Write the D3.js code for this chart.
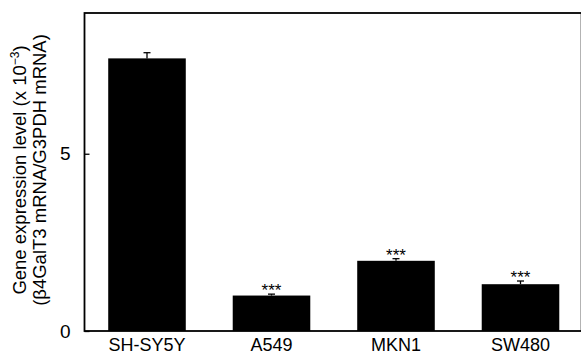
<!DOCTYPE html>
<html><head><meta charset="utf-8">
<script src="https://cdn.jsdelivr.net/npm/d3@7"></script>
<style>body{margin:0;background:#fff}svg{display:block}text{font-family:"Liberation Sans",Arial,Helvetica,sans-serif;fill:#000}</style>
</head><body><svg id="c" width="581" height="356"></svg>
<script>
const categories = ["SH-SY5Y","A549","MKN1","SW480"];
const values = [7.69, 1.0, 1.98, 1.32];
const errors = [0.16, 0.04, 0.06, 0.09];
const marks = ["", "***", "***", "***"];
const yTicks = [0, 5];

(function(){
const svg = d3.select("#c");
const pL = 84.5, pT = 13, pB = 331, pR = 581.6;
const x = d3.scaleBand().domain(categories).range([84.75, 582.75]).paddingInner(0.377).paddingOuter(0.1885);
const y = d3.scaleLinear().domain([0, 8.97]).range([pB, pT]);

svg.append("rect").attr("x", pL).attr("y", pT).attr("width", pR-pL).attr("height", pB-pT)
  .attr("fill","none").attr("stroke","#000").attr("stroke-width",1.8);

svg.selectAll("rect.bar").data(categories).enter().append("rect").attr("class","bar")
  .attr("x", d=>x(d)).attr("width", x.bandwidth())
  .attr("y", (d,i)=>y(values[i])).attr("height",(d,i)=>pB-y(values[i])).attr("fill","#000");

const eg = svg.selectAll("g.err").data(categories).enter().append("g");
eg.append("line").attr("x1",d=>x(d)+x.bandwidth()/2).attr("x2",d=>x(d)+x.bandwidth()/2)
  .attr("y1",(d,i)=>y(values[i])).attr("y2",(d,i)=>y(values[i]+errors[i])).attr("stroke","#000").attr("stroke-width",1.3);
eg.append("line").attr("x1",d=>x(d)+x.bandwidth()/2-3.5).attr("x2",d=>x(d)+x.bandwidth()/2+3.5)
  .attr("y1",(d,i)=>y(values[i]+errors[i])).attr("y2",(d,i)=>y(values[i]+errors[i])).attr("stroke","#000").attr("stroke-width",1.3);

svg.selectAll("text.star").data(categories).enter().append("text")
  .attr("x",d=>x(d)+x.bandwidth()/2).attr("y",(d,i)=>y(values[i]+errors[i])+2)
  .attr("text-anchor","middle").attr("font-size",17).text((d,i)=>marks[i]);

const yAxis = d3.axisLeft(y).tickValues(yTicks).tickSize(-5).tickPadding(14).tickFormat(d3.format("d"));
const ga = svg.append("g").attr("transform",`translate(${pL},0)`).call(yAxis);
ga.select(".domain").remove();
ga.selectAll(".tick line").attr("stroke","#000").attr("stroke-width",1.3);
ga.selectAll(".tick text").attr("font-size",19).attr("font-family","Liberation Sans, Arial, sans-serif");

const xAxis = d3.axisBottom(x).tickSize(0).tickPadding(7.5);
const gx = svg.append("g").attr("transform",`translate(0,${pB})`).call(xAxis);
gx.select(".domain").remove();
gx.selectAll(".tick text").attr("font-size",18).attr("font-family","Liberation Sans, Arial, sans-serif");

const yl = svg.append("text").attr("transform",`translate(26,170) rotate(-90)`).attr("text-anchor","middle").attr("font-size",18.5);
yl.append("tspan").attr("x",0).attr("dy",0).text("Gene expression level (x 10");
yl.append("tspan").attr("font-size",12).attr("dy",-7).text("−3");
yl.append("tspan").attr("dy",7).text(")");
yl.append("tspan").attr("x",0).attr("dy",20).text("(β4GalT3 mRNA/G3PDH mRNA)");
})();
</script></body></html>
